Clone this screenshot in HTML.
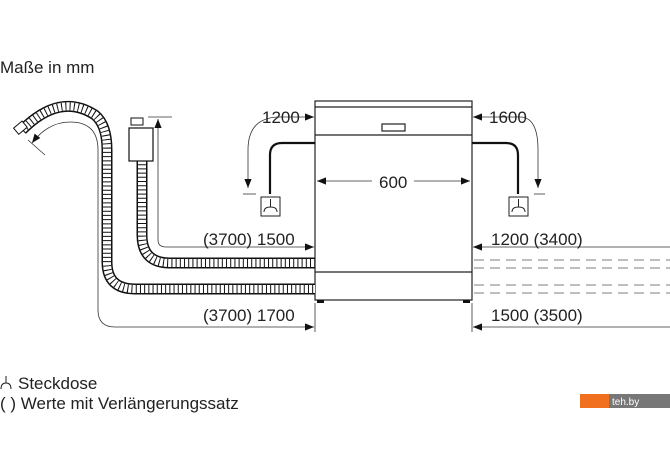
<!DOCTYPE html>
<html><head><style>
html,body{margin:0;padding:0;background:#fff;width:670px;height:471px;overflow:hidden}
svg{display:block}
text{font-family:"Liberation Sans",sans-serif;fill:#222}
</style></head><body>
<svg width="670" height="471" viewBox="0 0 670 471">
<defs>
<marker id="a" viewBox="0 0 10 10" refX="10" refY="5" markerWidth="11" markerHeight="9" markerUnits="userSpaceOnUse" orient="auto"><path d="M0,1 L10,5 L0,9z" fill="#111"/></marker>
</defs>
<text x="0" y="73" font-size="17">Maße in mm</text>

<!-- cabinet -->
<g fill="#fff" stroke="#222" stroke-width="1.2">
<rect x="315" y="101" width="157" height="199"/>
<line x1="315" y1="107" x2="472" y2="107"/>
<line x1="315" y1="135" x2="472" y2="135"/>
<line x1="315" y1="272" x2="472" y2="272"/>
<rect x="382" y="124" width="23" height="7"/>
</g>
<rect x="317" y="300" width="7" height="3" fill="#111"/>
<rect x="463" y="300" width="7" height="3" fill="#111"/>

<!-- hoses -->
<g fill="none">
<path id="h1" d="M142,160 V235 Q142,263 170,263 H315"/>
<path id="h2" d="M22,130 Q60,92 95,115 Q107,125 107,150 V262 Q107,289 135,289 H315"/>
</g>
<g fill="none" stroke="#111">
<use href="#h1" stroke-width="11"/><use href="#h2" stroke-width="11"/>
</g>
<g fill="none" stroke="#fff">
<use href="#h1" stroke-width="8"/><use href="#h2" stroke-width="8"/>
</g>
<g fill="none" stroke="#111" stroke-dasharray="1 3.2">
<use href="#h1" stroke-width="8"/><use href="#h2" stroke-width="8"/>
</g>
<rect x="15" y="124" width="11" height="8" transform="rotate(-40 20 128)" fill="#fff" stroke="#111"/>
<rect x="131" y="118" width="12" height="7" fill="#fff" stroke="#111"/>
<rect x="129" y="128" width="24" height="33" fill="#fff" stroke="#111" stroke-width="1.2"/>

<!-- thin dims -->
<g fill="none" stroke="#333" stroke-width="0.8">
<path d="M158,240 Q158,247 166,247 H314" marker-end="url(#a)"/>
<path d="M158,240 V119" marker-end="url(#a)"/>
<line x1="148" y1="117" x2="172" y2="117"/>
<path d="M98,310 Q98,327 115,327 H314" marker-end="url(#a)"/>
<path d="M98,310 V150 Q98,122 70,122 Q48,122 32,143" marker-end="url(#a)"/>
<line x1="28" y1="140" x2="45" y2="155"/>
<path d="M280,117 Q248,117 248,150 V188" marker-end="url(#a)"/>
<line x1="280" y1="117" x2="314" y2="117" marker-end="url(#a)"/>
<line x1="243" y1="194" x2="256" y2="194"/>
<path d="M520,117 Q538,117 538,150 V188" marker-end="url(#a)"/>
<line x1="520" y1="117" x2="473" y2="117" marker-end="url(#a)"/>
<line x1="534" y1="194" x2="545" y2="194"/>
<line x1="670" y1="247" x2="473" y2="247" marker-end="url(#a)"/>
<line x1="670" y1="327" x2="473" y2="327" marker-end="url(#a)"/>
<line x1="315" y1="303" x2="315" y2="332"/>
<line x1="472" y1="303" x2="472" y2="332"/>
<line x1="372" y1="181" x2="317" y2="181" marker-end="url(#a)"/>
<line x1="414" y1="181" x2="470" y2="181" marker-end="url(#a)"/>
</g>
<g stroke="#555" stroke-width="0.8" stroke-dasharray="10 6">
<line x1="474" y1="260" x2="670" y2="260"/>
<line x1="474" y1="268" x2="670" y2="268"/>
<line x1="474" y1="285" x2="670" y2="285"/>
<line x1="474" y1="293" x2="670" y2="293"/>
</g>
<g fill="none" stroke="#111" stroke-width="2.2">
<path d="M315,143 H282 Q270,143 270,155 V194"/>
<path d="M472,143 H506 Q518,143 518,155 V194"/>
</g>
<g fill="#fff" stroke="#222" stroke-width="1">
<rect x="261" y="197" width="19" height="19"/>
<rect x="509" y="197" width="19" height="19"/>
<path d="M270.5,199 V207 M264,212 Q264,207 270.5,207 Q277,207 277,212" fill="none"/>
<path d="M518.5,199 V207 M512,212 Q512,207 518.5,207 Q525,207 525,212" fill="none"/>
</g>

<g font-size="17">
<text x="262" y="123">1200</text>
<text x="489" y="123">1600</text>
<text x="379" y="188">600</text>
<text x="203" y="245">(3700) 1500</text>
<text x="491" y="245">1200 (3400)</text>
<text x="203" y="321">(3700) 1700</text>
<text x="491" y="321">1500 (3500)</text>
<text x="18" y="389">Steckdose</text>
<text x="0" y="409">( ) Werte mit Verlängerungssatz</text>
</g>
<path d="M6,376 V383 M1,389 Q1,383 6,383 Q11,383 11,389" fill="none" stroke="#222"/>
<rect x="580" y="394" width="29" height="14" fill="#f07020"/>
<rect x="609" y="394" width="61" height="14" fill="#777"/>
<text x="612" y="405" font-size="10" style="fill:#fff">teh.by</text>
</svg>
</body></html>
